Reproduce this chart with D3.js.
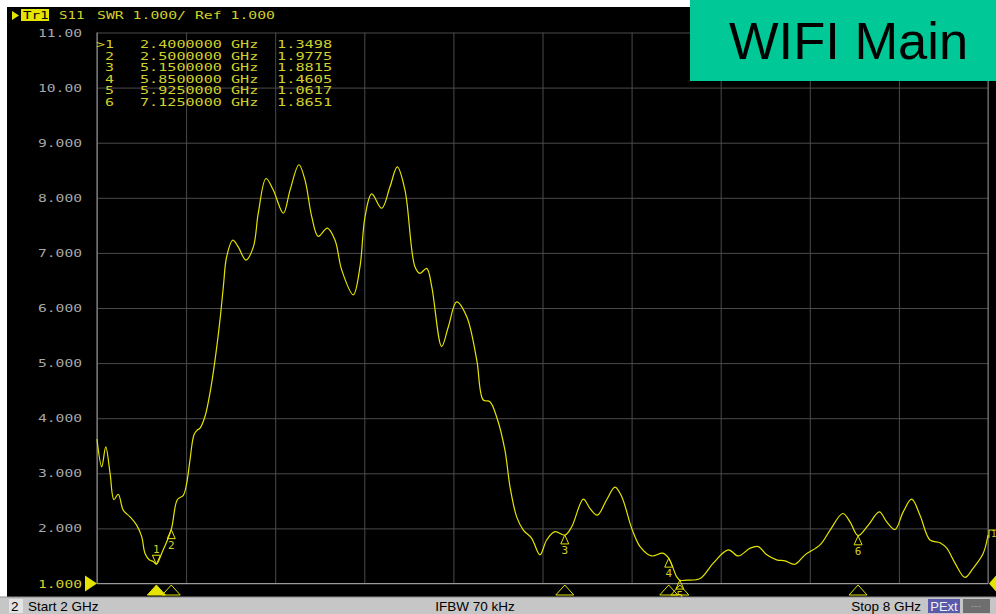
<!DOCTYPE html>
<html><head><meta charset="utf-8">
<script src="https://cdn.jsdelivr.net/npm/d3@7"></script>
<style>html,body{margin:0;padding:0;background:#fff;overflow:hidden}</style>
</head><body>
<script>
// ---- data ----
const freqGHz = [2.000,2.032,2.059,2.088,2.114,2.143,2.177,2.222,2.267,2.301,2.323,2.352,2.379,2.400,2.436,2.500,2.541,2.581,2.604,2.626,2.653,2.673,2.694,2.727,2.761,2.795,2.828,2.851,2.873,2.914,2.951,3.003,3.053,3.086,3.138,3.187,3.255,3.300,3.360,3.401,3.446,3.490,3.551,3.603,3.648,3.726,3.771,3.805,3.850,3.917,3.973,4.022,4.074,4.141,4.175,4.220,4.254,4.321,4.366,4.422,4.490,4.557,4.601,4.646,4.694,4.747,4.781,4.826,4.871,4.927,4.983,5.028,5.084,5.152,5.197,5.275,5.320,5.369,5.432,5.488,5.533,5.601,5.657,5.735,5.809,5.850,5.904,5.926,5.971,6.061,6.150,6.251,6.319,6.397,6.453,6.510,6.577,6.633,6.700,6.768,6.869,6.937,7.022,7.071,7.125,7.194,7.268,7.318,7.374,7.429,7.486,7.542,7.609,7.677,7.722,7.778,7.845,7.901,7.968,8.000];
const swr = [3.62,3.12,3.48,3.00,2.52,2.62,2.33,2.21,2.06,1.85,1.55,1.43,1.40,1.35,1.55,1.98,2.52,2.60,2.82,3.24,3.70,3.78,3.82,4.03,4.46,5.06,5.78,6.39,6.93,7.23,7.11,6.87,7.11,7.72,8.35,8.14,7.72,8.14,8.60,8.32,7.66,7.30,7.45,7.23,6.69,6.24,6.75,7.66,8.07,7.81,8.20,8.56,8.14,6.75,6.63,6.72,6.39,5.30,5.66,6.11,5.84,5.06,4.33,4.30,4.00,3.42,2.76,2.21,1.97,1.82,1.52,1.79,1.94,1.88,2.03,2.53,2.36,2.24,2.52,2.75,2.58,2.00,1.67,1.50,1.55,1.46,1.12,1.06,1.06,1.09,1.37,1.61,1.50,1.64,1.67,1.52,1.43,1.41,1.35,1.52,1.70,1.97,2.27,2.12,1.87,2.06,2.30,2.12,1.98,2.30,2.53,2.24,1.79,1.74,1.64,1.37,1.11,1.28,1.55,1.88];
const markerIds = ["1","2","3","4","5","6"];
const markerFreqs = [2.4,2.5,5.15,5.85,5.925,7.125];
const markerVals = [1.3498,1.9775,1.8815,1.4605,1.0617,1.8651];
const markerFreqLabels = ["2.4000000 GHz","2.5000000 GHz","5.1500000 GHz","5.8500000 GHz","5.9250000 GHz","7.1250000 GHz"];
const markerValLabels = ["1.3498","1.9775","1.8815","1.4605","1.0617","1.8651"];
const yTickValues = [1,2,3,4,5,6,7,8,9,10,11];
const yTickLabels = ["1.000","2.000","3.000","4.000","5.000","6.000","7.000","8.000","9.000","10.00","11.00"];
const xTickValues = [2,2.6,3.2,3.8,4.4,5,5.6,6.2,6.8,7.4,8];

// ---- layout ----
const W = 996, H = 614;
const L = 97, R = 988, T = 32.5, B = 583.5;
const YEL = "#e4e400", LAB = "#d0d02a", GRAYLAB = "#a8a8a8", GRID = "#4a4a4a";
const MONO = "'DejaVu Sans Mono', monospace";
const SANS = "'Liberation Sans', Arial, sans-serif";

const svg = d3.select("body").append("svg").attr("width", W).attr("height", H);
svg.append("rect").attr("width", W).attr("height", H).attr("fill", "#ffffff");
svg.append("rect").attr("x", 7).attr("y", 7).attr("width", W - 7).attr("height", 590).attr("fill", "#000");

const x = d3.scaleLinear().domain([2, 8]).range([L, R]);
const y = d3.scaleLinear().domain([1, 11]).range([B, T]);

function mono(g, txt, px, py, perChar, anchor, color, size) {
  return g.append("text").attr("x", px).attr("y", py).attr("font-family", MONO)
    .attr("font-size", size || 11).attr("fill", color).attr("text-anchor", anchor || "start")
    .attr("textLength", txt.length * perChar).attr("lengthAdjust", "spacingAndGlyphs").text(txt);
}

// grid via axes
const gx = svg.append("g").attr("transform", `translate(0,${B})`)
  .call(d3.axisBottom(x).tickValues(xTickValues).tickSize(-(B - T)).tickFormat(""));
const gy = svg.append("g").attr("transform", `translate(${L},0)`)
  .call(d3.axisLeft(y).tickValues(yTickValues).tickSize(-(R - L)).tickFormat(""));
[gx, gy].forEach(g => { g.select(".domain").remove(); g.selectAll("line").attr("stroke", GRID).attr("stroke-width", 1); });
svg.append("line").attr("x1", L).attr("x2", L).attr("y1", T).attr("y2", B).attr("stroke", "#9a9a9a");
svg.append("line").attr("x1", L).attr("x2", R).attr("y1", B).attr("y2", B).attr("stroke", "#9a9a9a");
svg.append("line").attr("x1", R).attr("x2", R).attr("y1", T).attr("y2", B).attr("stroke", "#7a7a7a");

// y labels
const yl = svg.append("g");
yTickValues.forEach((v, i) => {
  mono(yl, yTickLabels[i], 82, y(v) + 4, 8.8, "end", v === 1 ? LAB : GRAYLAB, 11);
});

// header
svg.append("path").attr("d", "M12,11 L19,15.5 L12,20 Z").attr("fill", YEL);
svg.append("rect").attr("x", 21).attr("y", 9).attr("width", 28).attr("height", 12).attr("fill", YEL);
mono(svg, "Tr1", 23, 19, 8.5, "start", "#000", 11);
mono(svg, "S11", 59, 19, 8.5, "start", LAB, 11);
mono(svg, "SWR 1.000/ Ref 1.000", 97, 19, 8.9, "start", LAB, 11);

// marker table
const tb = svg.append("g");
markerIds.forEach((id, i) => {
  const ty = 48 + i * 11.5;
  mono(tb, (i === 0 ? ">" : "") + id, 114, ty, 9, "end", LAB, 11);
  mono(tb, markerFreqLabels[i], 140, ty, 9.1, "start", LAB, 11);
  mono(tb, markerValLabels[i], 277, ty, 9.2, "start", LAB, 11);
});

// trace
const line = d3.line().x((d, i) => x(freqGHz[i])).y(d => y(d)).curve(d3.curveCatmullRom.alpha(0.5));
svg.append("path").datum(swr).attr("d", line).attr("fill", "none").attr("stroke", YEL).attr("stroke-width", 1.2);

// markers
const mk = svg.append("g");
markerIds.forEach((id, i) => {
  const mx = x(markerFreqs[i]), my = y(markerVals[i]);
  if (i === 0) {
    mk.append("path").attr("d", `M${mx},${my} L${mx - 4},${my - 9} L${mx + 4},${my - 9} Z`)
      .attr("fill", "none").attr("stroke", YEL).attr("stroke-width", 1);
    mk.append("text").attr("x", mx).attr("y", my - 11).attr("text-anchor", "middle").attr("font-family", MONO)
      .attr("font-size", 11).attr("fill", LAB).text(id);
  } else {
    mk.append("path").attr("d", `M${mx},${my} L${mx - 4},${my + 9} L${mx + 4},${my + 9} Z`)
      .attr("fill", "none").attr("stroke", YEL).attr("stroke-width", 1);
    mk.append("text").attr("x", mx).attr("y", my + 19).attr("text-anchor", "middle").attr("font-family", MONO)
      .attr("font-size", 11).attr("fill", LAB).text(id);
  }
  const by = 596, bh = 9, bw = 9;
  mk.append("path").attr("d", `M${mx},${by - bh - 2} L${mx - bw},${by - 1} L${mx + bw},${by - 1} Z`)
    .attr("fill", i === 0 ? YEL : "none").attr("stroke", YEL).attr("stroke-width", 1);
});

// reference level arrows
svg.append("path").attr("d", `M85,${B - 8} L97,${B} L85,${B + 8} Z`).attr("fill", YEL);
svg.append("path").attr("d", `M996,${B - 8} L989,${B} L996,${B + 8} Z`).attr("fill", YEL);
svg.append("path").attr("d", "M989,530 L996,530 M989,530 L989,538").attr("stroke", YEL).attr("fill", "none");
svg.append("text").attr("x", 991).attr("y", 537).attr("font-family", MONO).attr("font-size", 9).attr("fill", LAB).text("1");

// status bar
svg.append("rect").attr("x", 0).attr("y", 597).attr("width", W).attr("height", 17).attr("fill", "#c6c6c6");
svg.append("line").attr("x1", 0).attr("x2", W).attr("y1", 597).attr("y2", 597).attr("stroke", "#8a8a8a");
svg.append("rect").attr("x", 9).attr("y", 599).attr("width", 14).attr("height", 14).attr("fill", "#e2e2e2");
svg.append("text").attr("x", 11).attr("y", 611).attr("font-family", SANS).attr("font-size", 13.5).attr("fill", "#000").text("2");
svg.append("text").attr("x", 28).attr("y", 611).attr("font-family", SANS).attr("font-size", 13.5).attr("fill", "#000").text("Start 2 GHz");
svg.append("text").attr("x", 475).attr("y", 611).attr("text-anchor", "middle").attr("font-family", SANS).attr("font-size", 13.5).attr("fill", "#000").text("IFBW 70 kHz");
svg.append("text").attr("x", 921).attr("y", 611).attr("text-anchor", "end").attr("font-family", SANS).attr("font-size", 13.5).attr("fill", "#000").text("Stop 8 GHz");
svg.append("rect").attr("x", 928).attr("y", 599).attr("width", 32).attr("height", 14).attr("fill", "#5a5aaa");
svg.append("text").attr("x", 944).attr("y", 611).attr("text-anchor", "middle").attr("font-family", SANS).attr("font-size", 13).attr("fill", "#f0f0f0").text("PExt");
svg.append("rect").attr("x", 963).attr("y", 599).attr("width", 27).attr("height", 14).attr("fill", "#6e6e6e");
svg.append("text").attr("x", 976).attr("y", 609).attr("text-anchor", "middle").attr("font-family", SANS).attr("font-size", 10).attr("fill", "#9a9a9a").text("---");

// title badge
svg.append("rect").attr("x", 690).attr("y", 0).attr("width", 306).attr("height", 81).attr("fill", "#00c896");
svg.append("text").attr("x", 729).attr("y", 59).attr("font-family", SANS).attr("font-size", 52.5).attr("fill", "#000").text("WIFI Main");
</script>
</body></html>
